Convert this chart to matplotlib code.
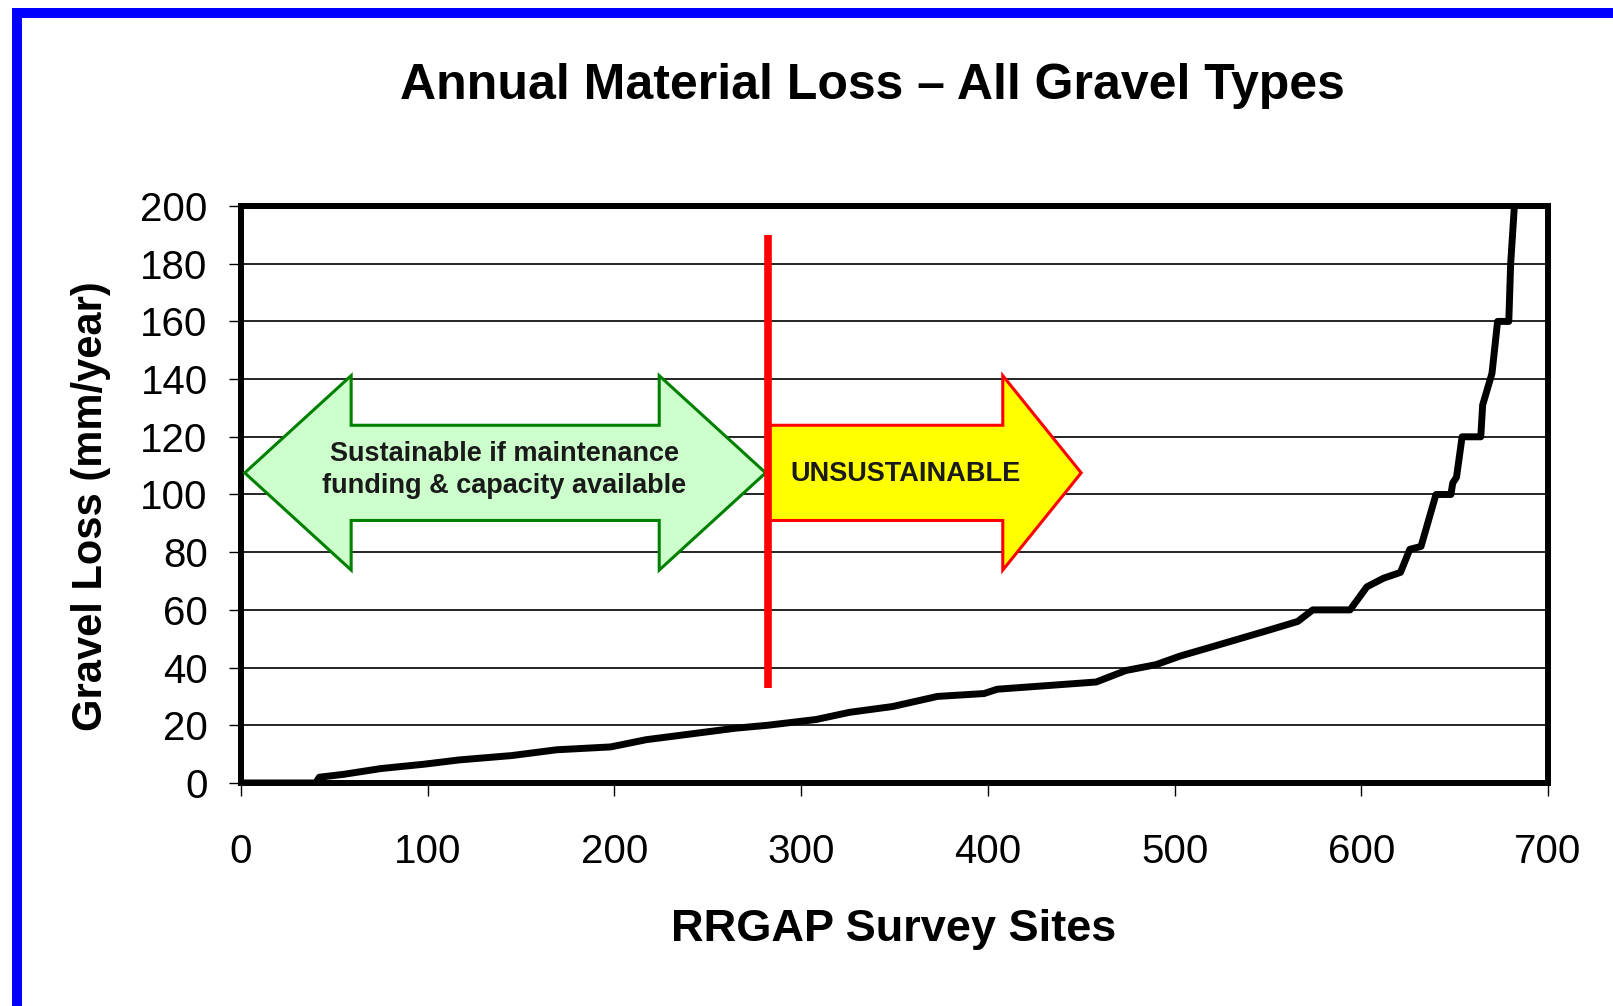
import matplotlib.pyplot as plt
from matplotlib.patches import Polygon, Rectangle

plt.rcParams['font.family'] = ['Liberation Sans', 'DejaVu Sans']

# sorted annual gravel loss
site_no = [0, 40, 42, 55, 75, 98, 117, 145, 169, 198, 217, 241, 265, 282,
           308, 326, 349, 373, 398, 405, 437, 458, 474, 490, 503, 519, 548,
           566, 574, 594, 603, 612, 621, 626, 632, 640, 648, 649, 651, 654,
           664, 665, 670, 673, 679, 680, 682]
loss_mm = [0, 0, 2, 3, 5, 6.5, 8, 9.5, 11.5, 12.5, 15, 17, 19, 20,
           22, 24.5, 26.5, 30, 31, 32.5, 34, 35, 39, 41, 44, 47, 52.5,
           56, 60, 60, 68, 71, 73, 81, 82, 100, 100, 104, 106, 120,
           120, 131, 142, 160, 160, 180, 200]

threshold_site = 282
threshold_span = (33, 190)

x_ticks = [0, 100, 200, 300, 400, 500, 600, 700]
y_ticks = [0, 20, 40, 60, 80, 100, 120, 140, 160, 180, 200]

sustain_label = "Sustainable if maintenance\nfunding & capacity available"
unsustain_label = "UNSUSTAINABLE"


def arrow_points(x_left, x_head, x_tip, y_mid, shaft, head, double=False):
    pts = []
    if double:
        pts += [(x_left, y_mid), (x_left + (x_tip - x_head), y_mid + head),
                (x_left + (x_tip - x_head), y_mid + shaft)]
    else:
        pts += [(x_left, y_mid + shaft)]
    pts += [(x_head, y_mid + shaft), (x_head, y_mid + head), (x_tip, y_mid),
            (x_head, y_mid - head), (x_head, y_mid - shaft)]
    if double:
        pts += [(x_left + (x_tip - x_head), y_mid - shaft),
                (x_left + (x_tip - x_head), y_mid - head)]
    else:
        pts += [(x_left, y_mid - shaft)]
    return pts


fig = plt.figure(figsize=(16.13, 10.06), dpi=100)
ax = fig.add_axes([0.1494, 0.2217, 0.8103, 0.5735])

ax.set_xlim(0, 700)
ax.set_ylim(0, 200)
ax.set_xticks(x_ticks)
ax.set_yticks(y_ticks)
ax.yaxis.grid(True, color='black', lw=1.2)
ax.set_axisbelow(True)

for sp in ax.spines.values():
    sp.set_linewidth(4.3)
ax.tick_params(axis='both', direction='out', length=9, width=1, labelsize=29)
ax.tick_params(axis='x', pad=27)
ax.tick_params(axis='y', pad=15)

# green double arrow
green = Polygon(arrow_points(2, 224, 281, 107.5, 16.5, 33.7, double=True),
                closed=True, facecolor='#ccffcc', edgecolor='#008000', lw=2.2, zorder=3)
ax.add_patch(green)
ax.text(141, 108.6, sustain_label, ha='center', va='center', fontsize=19.5,
        fontweight='bold', color='#1a1a1a', linespacing=1.3, zorder=4)

# yellow arrow
yellow = Polygon(arrow_points(283, 408, 450, 107.5, 16.5, 33.7),
                 closed=True, facecolor='#ffff00', edgecolor='#ff0000', lw=2.2, zorder=3)
ax.add_patch(yellow)
ax.text(356, 107.1, unsustain_label, ha='center', va='center', fontsize=19.5,
        fontweight='bold', color='#1a1a1a', zorder=4)

ax.vlines(threshold_site, *threshold_span, color='#ff0000', lw=5.5, zorder=4)

ax.plot(site_no, loss_mm, color='black', lw=5, zorder=5)

ax.set_xlabel('RRGAP Survey Sites', fontsize=32.5, fontweight='bold', va='center')
ax.xaxis.set_label_coords(0.499, -0.254)
ax.set_ylabel('Gravel Loss (mm/year)', fontsize=30, fontweight='bold', va='center')
ax.yaxis.set_label_coords(-0.115, 0.48)

fig.text(0.5406, 0.9145, 'Annual Material Loss \u2013 All Gravel Types',
         ha='center', va='center', fontsize=36, fontweight='bold')

# blue frame round the whole picture (cut off at right and bottom)
frame = Rectangle((17 / 1613, -0.002), 1.1, 1 - 13 / 1006 + 0.002, fill=False,
                  edgecolor='#0000ff', lw=7.2, transform=fig.transFigure, clip_on=False)
fig.add_artist(frame)

fig.savefig('out.png', dpi=100)
